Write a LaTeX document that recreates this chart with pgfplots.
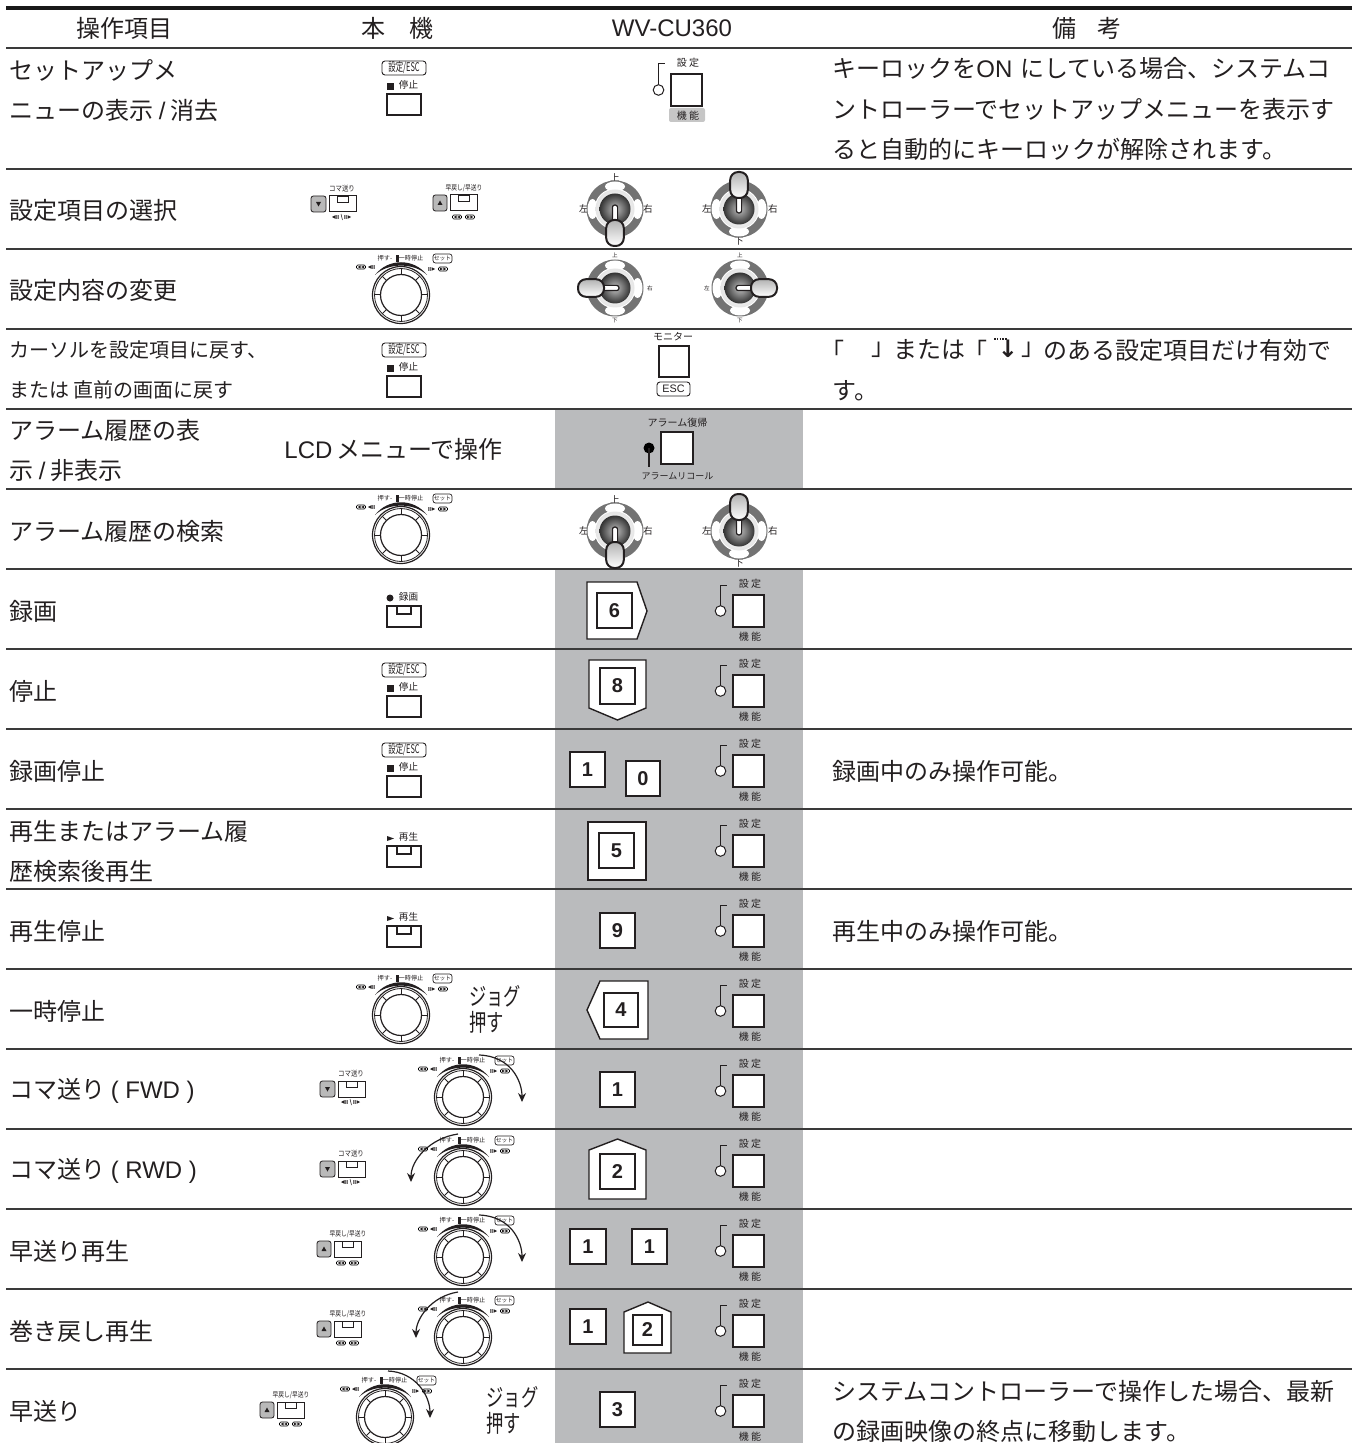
\documentclass[border=0pt]{standalone}
\usepackage{fontspec}
\usepackage{pgfplots}
\pgfplotsset{compat=1.18}
\usetikzlibrary{arrows.meta}
\setmainfont{Noto Sans CJK JP}
\newfontfamily\lat{Liberation Sans}
\newfontfamily\dv{DejaVu Sans}
\definecolor{ink}{HTML}{231F20}
\definecolor{band}{HTML}{BABBBD}
\definecolor{rule}{HTML}{3A3A3A}
\newcommand{\fs}[1]{\fontsize{#1}{#1}\selectfont}
% ---------- small icon helpers (local coordinates in reference pixels)
\newcommand{\tx}[4]{\node[inner sep=0pt,text=ink,font=\fs{#3}] at (#1,#2) {#4};}
\newcommand{\SmRW}[2]{\begin{scope}[shift={(#1,#2)}]
 \draw[line width=.3pt,rounded corners=.6pt] (-4.5,-2) rectangle (4.5,2);
 \fill[ink] (-.3,-1.5)--(-.3,1.5)--(-3.3,0)--cycle (3.2,-1.5)--(3.2,1.5)--(.2,0)--cycle;\end{scope}}
\newcommand{\SmFF}[2]{\begin{scope}[shift={(#1,#2)}]
 \draw[line width=.3pt,rounded corners=.6pt] (-4.5,-2) rectangle (4.5,2);
 \fill[ink] (.3,-1.5)--(.3,1.5)--(3.3,0)--cycle (-3.2,-1.5)--(-3.2,1.5)--(-.2,0)--cycle;\end{scope}}
\newcommand{\SmBack}[2]{\begin{scope}[shift={(#1,#2)}]
 \fill[ink] (-.5,-1.8)--(-.5,1.8)--(-4,0)--cycle (.3,-1.8) rectangle (1.1,1.8) (1.9,-1.8) rectangle (2.7,1.8);\end{scope}}
\newcommand{\SmFwd}[2]{\begin{scope}[shift={(#1,#2)}]
 \fill[ink] (.5,-1.8)--(.5,1.8)--(4,0)--cycle (-.3,-1.8) rectangle (-1.1,1.8) (-1.9,-1.8) rectangle (-2.7,1.8);\end{scope}}
\newcommand{\FuncKey}[1]{\begin{scope}[shift={(0,#1)}]
 \draw[ink,line width=.6pt,fill=white] (733,26) rectangle (764,58);
 \draw[ink,line width=.5pt] (720.5,37) -- (720.5,16) -- (727,16);
 \draw[ink,line width=.5pt,fill=white] (720.5,42) circle (5.3);
 \tx{750}{15}{5}{設 定}
 \tx{750}{68}{5}{機 能}
\end{scope}}
\newcommand{\StopKey}[1]{\begin{scope}[shift={(0,#1)}]
 \draw[ink,line width=.45pt,rounded corners=1.5pt] (382,61) rectangle (426,75);
 \node[inner sep=0pt,text=ink,font=\fs{6}] at (404,68) {\scalebox{.62}[1]{設定/ESC}};
 \fill[ink] (387,83) rectangle (394,90);
 \tx{408.5}{85}{4.8}{停止}
 \draw[ink,line width=.6pt,fill=white] (387,94) rectangle (421,115);
\end{scope}}
\newcommand{\SlotKey}[2]{% top y of the rectangle; name
 \draw[ink,line width=.6pt] (387,#1) rectangle (421,#1+21);
 \draw[ink,line width=.6pt] (397,#1) rectangle (411,#1+8);
 \node[inner sep=0pt,text=ink,font=\fs{4.8}] at (408.5,#1-9.5) {#2};}
\newcommand{\Koma}[2]{\begin{scope}[shift={(#1,#2)}]
 \draw[ink,line width=.4pt,fill=gray!55,rounded corners=1.2pt] (0,0) rectangle (15,16);
 \fill[ink] (5,6)--(10,6)--(7.5,10.5)--cycle;
 \draw[ink,line width=.5pt] (18,0) rectangle (45,16);
 \draw[ink,line width=.4pt] (26,0) rectangle (37,6);
 \node[inner sep=0pt,text=ink,font=\fs{3.8}] at (31,-7) {\scalebox{.85}[1]{コマ送り}};
 \SmBack{25}{21}\SmFwd{36}{21}\draw[ink,line width=.25pt] (31.5,24)--(30,18);
\end{scope}}
\newcommand{\Haya}[2]{\begin{scope}[shift={(#1,#2)}]
 \draw[ink,line width=.4pt,fill=gray!55,rounded corners=1.2pt] (0,0) rectangle (14,16);
 \fill[ink] (4.5,10)--(9.5,10)--(7,5.5)--cycle;
 \draw[ink,line width=.5pt] (17,0) rectangle (44,16);
 \draw[ink,line width=.4pt] (25,0) rectangle (36,6);
 \node[inner sep=0pt,text=ink,font=\fs{3.6}] at (31,-7) {\scalebox{.8}[1]{早戻し/早送り}};
 \SmRW{24}{22}\SmFF{37}{22}
\end{scope}}
\newcommand{\Dial}[2]{\begin{scope}[shift={(#1,#2)}]
 \draw[ink,line width=.6pt,fill=white] (0,0) circle (28.5);
 \draw[ink,line width=.4pt] (0,0) circle (26.5);
 \draw[ink,line width=.6pt] (0,0) circle (20.5);
 \foreach \a in {0,90,180,45,135,225,315,270}{\draw[ink,line width=.5pt] (\a:20.5) -- (\a:26.5);}
 \fill[ink] (-26,-20) .. controls (-13,-37) and (13,-37) .. (26,-20) .. controls (13,-32.5) and (-13,-32.5) .. (-26,-20);
 \fill[ink] (-5.5,-40) rectangle (-2,-33);
 \node[inner sep=0pt,text=ink,font=\fs{3.1}] at (-16,-37) {押す-};
 \node[inner sep=0pt,text=ink,font=\fs{3.1}] at (10,-37) {一時停止};
 \draw[ink,line width=.35pt,rounded corners=1.2pt] (32,-41) rectangle (51,-32);
 \node[inner sep=0pt,text=ink,font=\fs{2.9}] at (41.5,-36.5) {セット};
 \SmRW{-40}{-28}\SmBack{-29}{-28}\SmFwd{30}{-26}\SmFF{42}{-26}
\end{scope}}
\newcommand{\Joy}[5]{\begin{scope}[shift={(#1,#2)}]
 % #3 lever rotation, #4 label size, #5 label distance
 \tx{0}{-#5}{#4}{上}\tx{0}{#5}{#4}{下}\tx{-#5}{0}{#4}{左}\tx{#5+2}{0}{#4}{右}
 \fill[gray!90!black] (0,0) circle (28.5);
 \fill[white] (0,-22.5) ellipse (10 and 5) (0,22.5) ellipse (10 and 5) (-22.5,0) ellipse (5 and 10) (22.5,0) ellipse (5 and 10);
 \fill[white] (0,0) circle (20.5);
 \shade[inner color=white,outer color=gray!20] (0,0) circle (19.5);
 \shade[inner color=gray!50,middle color=gray!70,outer color=black!80] (0,0) circle (15.5);
 \begin{scope}[rotate=#3]
  \draw[ink,line width=.6pt,fill=white,rounded corners=1.2pt] (-2.6,-4) rectangle (2.6,15);
  \shadedraw[draw=ink,line width=1pt,rounded corners=4pt,top color=gray!60,bottom color=white] (-8.8,11) rectangle (8.8,37);
 \end{scope}
\end{scope}}
\newcommand{\NumKey}[5]{\draw[ink,line width=.7pt,fill=white] (#1,#2) rectangle (#3,#4);
 \node[inner sep=0pt,text=ink,font=\fs{10}\lat\bfseries] at ({(#1+#3)/2},{(#2+#4)/2}) {#5};}
\begin{document}
\begin{tikzpicture}
\path[use as bounding box] (0,0) rectangle (679pt,-721.5pt);
\begin{axis}[at={(0,0)},anchor=north west,scale only axis,width=679pt,height=721.5pt,
  xmin=0,xmax=1358,ymin=0,ymax=1443,y dir=reverse,hide axis,clip=true,
  every axis plot/.append style={no markers,forget plot},
  ]
\addplot[fill=band,draw=none] coordinates {(555,409)(803,409)(803,489)(555,489)} --cycle;
\addplot[fill=band,draw=none] coordinates {(555,569)(803,569)(803,1443)(555,1443)} --cycle;
\addplot[black!90,line width=1.7pt] coordinates {(6,8)(1352,8)};
\addplot[rule,line width=.8pt] coordinates {(6,48)(1352,48)};
\addplot[rule,line width=.8pt] coordinates {(6,169)(1352,169)};
\addplot[rule,line width=.8pt] coordinates {(6,249)(1352,249)};
\addplot[rule,line width=.8pt] coordinates {(6,329)(1352,329)};
\addplot[rule,line width=.8pt] coordinates {(6,409)(1352,409)};
\addplot[rule,line width=.8pt] coordinates {(6,489)(1352,489)};
\addplot[rule,line width=.8pt] coordinates {(6,569)(1352,569)};
\addplot[rule,line width=.8pt] coordinates {(6,649)(1352,649)};
\addplot[rule,line width=.8pt] coordinates {(6,729)(1352,729)};
\addplot[rule,line width=.8pt] coordinates {(6,809)(1352,809)};
\addplot[rule,line width=.8pt] coordinates {(6,889)(1352,889)};
\addplot[rule,line width=.8pt] coordinates {(6,969)(1352,969)};
\addplot[rule,line width=.8pt] coordinates {(6,1049)(1352,1049)};
\addplot[rule,line width=.8pt] coordinates {(6,1129)(1352,1129)};
\addplot[rule,line width=.8pt] coordinates {(6,1209)(1352,1209)};
\addplot[rule,line width=.8pt] coordinates {(6,1289)(1352,1289)};
\addplot[rule,line width=.8pt] coordinates {(6,1369)(1352,1369)};
\end{axis}
\begin{scope}[x=.5pt,y=-.5pt]
\clip (0,0) rectangle (1358,1443);
% header
\tikzset{L/.style={anchor=west,inner sep=0pt,text=ink,font=\fs{12}},
 LS/.style={anchor=west,inner sep=0pt,text=ink,font=\fs{10}}}
\tx{124}{28}{12}{操作項目}
\tx{397}{28}{12}{本\hspace{1em}機}
\node[inner sep=0pt,text=ink,font=\fs{12}\lat] at (672,28) {WV-CU360};
\tx{1087}{28}{12}{備\hspace{.9em}考}
% first column
\node[L] at (9,70) {セットアップメ};
\node[L] at (9,110) {ニューの表示 {\lat /} 消去};
\node[L] at (9,210) {設定項目の選択};
\node[L] at (9,290) {設定内容の変更};
\node[LS] at (9,350) {カーソルを設定項目に戻す、};
\node[LS] at (9,390) {または 直前の画面に戻す};
\node[L] at (9,430) {アラーム履歴の表};
\node[L] at (9,471) {示 {\lat /} 非表示};
\node[L] at (9,531) {アラーム履歴の検索};
\node[L] at (9,611) {録画};
\node[L] at (9,691) {停止};
\node[L] at (9,771) {録画停止};
\node[L] at (9,831) {再生またはアラーム履};
\node[L] at (9,871) {歴検索後再生};
\node[L] at (9,931) {再生停止};
\node[L] at (9,1011) {一時停止};
\node[L] at (9,1091) {コマ送り {\lat ( FWD )}};
\node[L] at (9,1171) {コマ送り {\lat ( RWD )}};
\node[L] at (9,1251) {早送り再生};
\node[L] at (9,1331) {巻き戻し再生};
\node[L] at (9,1411) {早送り};
% notes
\node[L] at (832,68) {キーロックを{\lat ON\hspace{.33em}}にしている場合、システムコ};
\node[L] at (832,109) {ントローラーでセットアップメニューを表示す};
\node[L] at (832,149) {ると自動的にキーロックが解除されます。};
\node[L] at (820,350) {「};
\node[L] at (871,350) {」};
\node[L] at (893,350) {または};
\node[L] at (963,350) {「};
\node[inner sep=0pt,text=ink,font=\fs{12}\dv\bfseries] at (1008,349) {↓};
\draw[ink,line width=.9pt,dash pattern=on .8pt off .6pt] (994,339) -- (1007,339);
\node[L] at (1021,350) {」};
\node[L] at (1043,350) {のある設定項目だけ有効で};
\node[L] at (832,391) {す。};
\node[L] at (832,771) {録画中のみ操作可能。};
\node[L] at (832,931) {再生中のみ操作可能。};
\node[L] at (832,1391) {システムコントローラーで操作した場合、最新};
\node[L] at (832,1431) {の録画映像の終点に移動します。};
\node[L] at (284,449) {{\lat LCD\,}メニューで操作};
\node[inner sep=0pt,text=ink,font=\fs{12}] at (495,1012) {\scalebox{.72}[1]{\begin{tabular}{@{}l@{}}ジョグ\\[-1pt]押す\end{tabular}}};
\node[inner sep=0pt,text=ink,font=\fs{12}] at (512.5,1413) {\scalebox{.72}[1]{\begin{tabular}{@{}l@{}}ジョグ\\[-1pt]押す\end{tabular}}};
% machine keys
\StopKey{0}\StopKey{282}\StopKey{602}\StopKey{682}
\SlotKey{606}{録画}
\fill[ink] (390,598) circle (3.5);
\SlotKey{846}{再生}
\fill[ink] (387,836)--(394,838.5)--(387,841)--cycle;
\SlotKey{926}{再生}
\fill[ink] (387,916)--(394,918.5)--(387,921)--cycle;
\Koma{311}{196}\Koma{320}{1081}\Koma{320}{1161}
\Haya{433}{195}\Haya{317}{1241}\Haya{317}{1321}\Haya{260}{1402}
\Dial{401}{295}\Dial{401}{535}\Dial{401}{1015}
\Dial{463}{1097}\Dial{463}{1177}\Dial{463}{1257}\Dial{463}{1337}\Dial{385}{1417}
\begin{scope}[ink,line width=.6pt,-{Stealth[length=4.5pt,width=4pt]}]
\draw (479,1055) .. controls (510,1056) and (522,1080) .. (522,1102);
\draw (479,1215) .. controls (510,1216) and (522,1240) .. (522,1262);
\draw (458,1134) .. controls (430,1138) and (411,1160) .. (411,1182);
\draw (458,1292) .. controls (432,1296) and (416,1318) .. (416,1338);
\draw (388,1371) .. controls (415,1372) and (430,1395) .. (430,1418);
\end{scope}
% joysticks
\Joy{615}{209}{0}{4.8}{31}\Joy{739}{209}{180}{4.8}{32}
\Joy{615}{288}{-90}{2.8}{33}\Joy{740}{288}{90}{2.8}{33}
\Joy{615}{531}{0}{4.8}{31}\Joy{739}{531}{180}{4.8}{32}
% WV-CU360 keys, first row
\begin{scope}[shift={(-62,48)}]
 \fill[gray!45,rounded corners=1pt] (731,60) rectangle (767,74);
 \FuncKey{0}
\end{scope}
\foreach \r in {569,649,729,809,889,969,1049,1129,1209,1289,1369}{\FuncKey{\r}}
% monitor
\tx{673}{337}{5}{モニター}
\draw[ink,line width=.6pt,fill=white] (659,346) rectangle (689,377);
\draw[ink,line width=.45pt,rounded corners=1.5pt] (657,382) rectangle (690,396);
\node[inner sep=0pt,text=ink,font=\fs{5.4}\lat] at (673.5,389) {ESC};
% alarm
\tx{677.5}{423}{5}{アラーム復帰}
\draw[ink,line width=.6pt,fill=white] (661,432) rectangle (693,464);
\fill[black] (649,448) circle (5.5);
\draw[ink,line width=.6pt] (649,448) -- (649,467);
\tx{677.5}{476}{4.5}{アラームリコール}
% numeric keys
\draw[ink,line width=.7pt,fill=white] (587,582)--(637,582)--(647,611)--(637,639)--(587,639)--cycle;
\NumKey{597}{593}{632}{628}{6}
\draw[ink,line width=.7pt,fill=white] (589,660)--(646,660)--(646,708)--(617.5,720)--(589,708)--cycle;
\NumKey{600}{668}{635}{704}{8}
\NumKey{570}{752}{605}{787}{1}
\NumKey{626}{761}{660}{796}{0}
\draw[ink,line width=.7pt,fill=white] (588,822) rectangle (646,880);
\NumKey{599}{833}{634}{868}{5}
\NumKey{600}{913}{635}{948}{9}
\draw[ink,line width=.7pt,fill=white] (587,1010)--(600,981)--(648,981)--(648,1039)--(600,1039)--cycle;
\NumKey{604}{993}{638}{1027}{4}
\NumKey{600}{1072}{635}{1107}{1}
\draw[ink,line width=.7pt,fill=white] (589,1150)--(617.5,1139)--(646,1150)--(646,1199)--(589,1199)--cycle;
\NumKey{600}{1154}{635}{1189}{2}
\NumKey{570}{1229}{606}{1264}{1}
\NumKey{632}{1229}{667}{1264}{1}
\NumKey{570}{1309}{606}{1344}{1}
\draw[ink,line width=.7pt,fill=white] (624,1312)--(648,1302)--(671,1312)--(671,1353)--(624,1353)--cycle;
\NumKey{633}{1315}{662}{1345}{2}
\NumKey{600}{1392}{635}{1427}{3}
\end{scope}
\end{tikzpicture}
\end{document}
